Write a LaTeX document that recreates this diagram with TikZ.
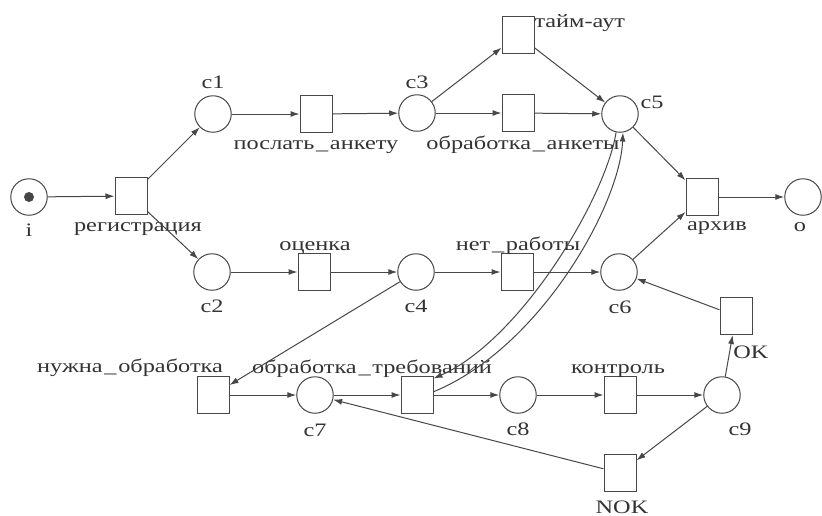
\documentclass[tikz,border=0pt]{standalone}
\usepackage{fontspec}
\setmainfont[FakeStretch=1.28]{Liberation Serif}
\usetikzlibrary{arrows.meta}
\definecolor{ink}{HTML}{474747}
\definecolor{txt}{HTML}{333333}
\newcommand{\us}{\kern0.7pt\_\kern0.7pt}

\begin{document}
\begin{tikzpicture}[x=0.4pt,y=-0.4pt,
  place/.style={draw=ink,circle,minimum size=14.6pt,inner sep=0pt,line width=0.4pt},
  trans/.style={draw=ink,rectangle,minimum width=12.8pt,minimum height=14.8pt,inner sep=0pt,line width=0.4pt},
  token/.style={fill=ink,circle,minimum size=4pt,inner sep=0pt},
  lbl/.style={anchor=base,inner sep=0pt,text=txt,font=\fontsize{7.6pt}{9pt}\selectfont},
  arc/.style={draw=ink,line width=0.4pt,-{Latex[length=3.6pt,width=2.4pt]}},
]
\useasboundingbox (0,0) rectangle (822,515);
\fill[white] (0,0) rectangle (822,515);

% places
\node[place] (i)  at (29,197) {};
\node[token] (tok) at (29,197) {};
\node[place] (c1) at (213,114) {};
\node[place] (c2) at (212,272) {};
\node[place] (c3) at (417,113) {};
\node[place] (c4) at (416,272) {};
\node[place] (c5) at (620,114) {};
\node[place] (c6) at (619,272) {};
\node[place] (o)  at (803,197) {};
\node[place] (c7) at (315,395) {};
\node[place] (c8) at (518,395) {};
\node[place] (c9) at (722,395) {};

% transitions
\node[trans] (reg)    at (131,196) {};
\node[trans] (send)   at (316,114) {};
\node[trans] (tout)   at (518,35)  {};
\node[trans] (proc)   at (518,113) {};
\node[trans] (arch)   at (702,197) {};
\node[trans] (eval)   at (314,272) {};
\node[trans] (nowork) at (517,272) {};
\node[trans] (need)   at (213,395) {};
\node[trans] (req)    at (417,395) {};
\node[trans] (ctrl)   at (620,395) {};
\node[trans] (ok)     at (736,316) {};
\node[trans] (nok)    at (620,473) {};

% labels
\node[lbl] (li)  at (29,236)  {i};
\node[lbl] (lc1) at (213,88)  {c1};
\node[lbl] (lc2) at (212,312) {c2};
\node[lbl] (lc3) at (417,88)  {c3};
\node[lbl] (lc4) at (416,312) {c4};
\node[lbl] (lc5) at (652,108) {c5};
\node[lbl] (lc6) at (620,313) {c6};
\node[lbl] (lo)  at (800,231) {o};
\node[lbl] (lc7) at (315,436) {c7};
\node[lbl] (lc8) at (518,435) {c8};
\node[lbl] (lc9) at (740,435) {c9};

\node[lbl] (lreg)    at (138,231) {регистрация};
\node[lbl] (lsend)   at (316,149) {послать\us анкету};
\node[lbl,anchor=base west] (ltout) at (534,27) {тайм-аут};
\node[lbl] (lproc)   at (523,149) {обработка\us анкеты};
\node[lbl] (larch)   at (717,230) {архив};
\node[lbl] (leval)   at (315,250) {оценка};
\node[lbl] (lnowork) at (518,250) {нет\us работы};
\node[lbl] (lneed)   at (130,372) {нужна\us обработка};
\node[lbl] (lreq)    at (372,373) {обработка\us требований};
\node[lbl] (lctrl)   at (618,373) {контроль};
\node[lbl] (lok)     at (751,358) {OK};
\node[lbl] (lnok)    at (622,513) {NOK};

% arcs
\draw[arc] (i) -- (reg);
\draw[arc] (reg) -- (c1);
\draw[arc] (reg) -- (c2);
\draw[arc] (c1) -- (send);
\draw[arc] (send) -- (c3);
\draw[arc] (c3) -- (tout);
\draw[arc] (c3) -- (proc);
\draw[arc] (tout) -- (c5);
\draw[arc] (proc) -- (c5);
\draw[arc] (c5) -- (arch);
\draw[arc] (c6) -- (arch);
\draw[arc] (arch) -- (o);
\draw[arc] (c2) -- (eval);
\draw[arc] (eval) -- (c4);
\draw[arc] (c4) -- (nowork);
\draw[arc] (nowork) -- (c6);
\draw[arc] (c4) -- (need);
\draw[arc] (need) -- (c7);
\draw[arc] (c7) -- (req);
\draw[arc] (req) -- (c8);
\draw[arc] (c8) -- (ctrl);
\draw[arc] (ctrl) -- (c9);
\draw[arc] (c9) -- (ok);
\draw[arc] (ok) -- (c6);
\draw[arc] (c9) -- (nok);
\draw[arc] (nok) -- (c7);

% read-back pair between the request handling and c5
\draw[arc] (req.11) .. controls (540,348) and (620,205) .. (c5.-81);
\draw[arc] (c5.-102) .. controls (605,200) and (520,340) .. (req.45);
\end{tikzpicture}
\end{document}
